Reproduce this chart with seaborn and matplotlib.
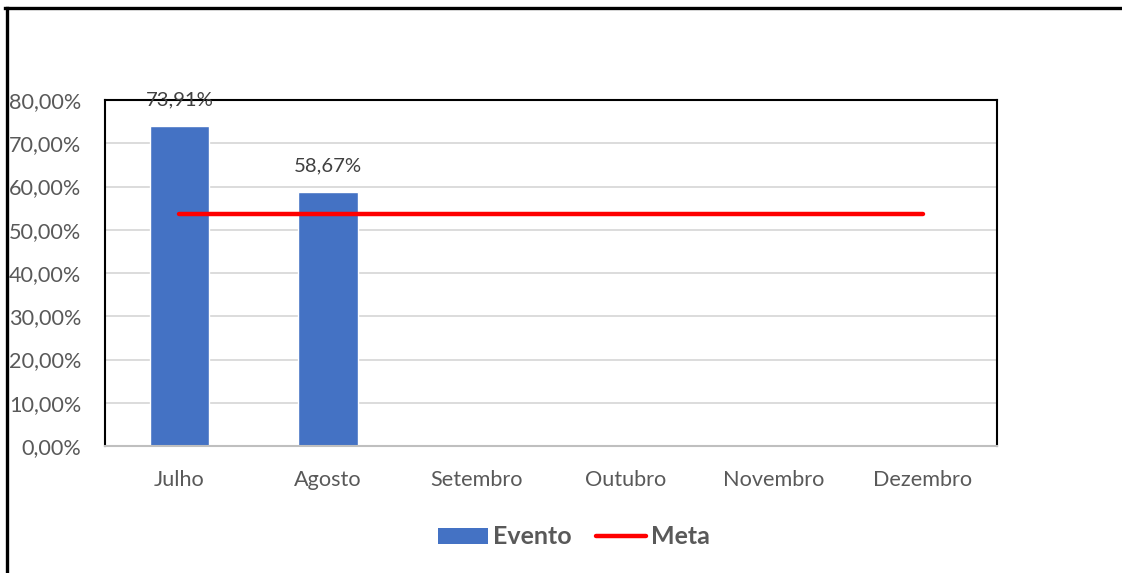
import matplotlib
matplotlib.use("Agg")
import matplotlib.pyplot as plt
from matplotlib.lines import Line2D
from matplotlib.patches import Patch
from matplotlib.ticker import FuncFormatter, MultipleLocator
import seaborn as sns
import pandas as pd
import numpy as np

# Monthly results (percent) and target
meses = ["Julho", "Agosto", "Setembro", "Outubro", "Novembro", "Dezembro"]
evento = [73.91, 58.67, np.nan, np.nan, np.nan, np.nan]
meta = [53.7, 53.7, 53.7, 53.7, 53.7, 53.7]

df = pd.DataFrame({"mes": meses, "evento": evento, "meta": meta})

sns.set_theme(style="white")
plt.rcParams["font.family"] = ["Lato", "DejaVu Sans"]

BLUE = "#4472C4"
RED = "#FF0000"
TXT = "#595959"

fig = plt.figure(figsize=(11.22, 5.73), dpi=100)
ax = fig.add_axes([105 / 1122, 1 - 446 / 573, 892 / 1122, 346 / 573])

sns.barplot(data=df, x="mes", y="evento", order=meses, color=BLUE,
            width=0.4, saturation=1, ax=ax, zorder=2)
sns.lineplot(data=df, x="mes", y="meta", color=RED, linewidth=3.2,
             ax=ax, zorder=3, solid_capstyle="round")

# value labels above bars
for i, v in enumerate(evento):
    if not np.isnan(v):
        ax.annotate(f"{v:.2f}%".replace(".", ","), (i, v),
                    xytext=(0, 26), textcoords="offset pixels",
                    ha="center", va="center", fontsize=14.6, color="#404040")

ax.set_xlim(-0.5, 5.5)
ax.set_ylim(0, 80)
ax.yaxis.set_major_locator(MultipleLocator(10))
ax.yaxis.set_major_formatter(FuncFormatter(lambda y, _: f"{y:.2f}%".replace(".", ",")))
ax.grid(axis="y", color="#d9d9d9", linewidth=1.3, zorder=0)
ax.set_axisbelow(True)
ax.set_xlabel("")
ax.set_ylabel("")
ax.tick_params(axis="both", length=0, labelsize=15.6, labelcolor=TXT)
ax.tick_params(axis="x", pad=17)
ax.tick_params(axis="y", pad=17)

for side in ["top", "left", "right"]:
    ax.spines[side].set_color("black")
    ax.spines[side].set_linewidth(1.5)
ax.spines["bottom"].set_color("#bfbfbf")
ax.spines["bottom"].set_linewidth(1.5)
if ax.get_legend() is not None:
    ax.get_legend().remove()

handles = [Patch(facecolor=BLUE, edgecolor="none"),
           Line2D([0], [0], color=RED, linewidth=3.2, solid_capstyle="round")]
leg = fig.legend(handles, ["Evento", "Meta"], loc="center", ncol=2,
                 bbox_to_anchor=(574 / 1122, 1 - 537 / 573), frameon=False,
                 prop={"weight": "bold", "size": 18}, handlelength=2.0,
                 handleheight=0.6, handletextpad=0.2, columnspacing=1.0)
for t in leg.get_texts():
    t.set_color(TXT)

# outer frame (top and left edges)
fig.add_artist(Line2D([5 / 1122, 1], [1 - 7.5 / 573, 1 - 7.5 / 573],
                      color="black", linewidth=2.4, solid_capstyle="projecting",
                      transform=fig.transFigure))
fig.add_artist(Line2D([6.5 / 1122, 6.5 / 1122], [0, 1 - 7.5 / 573],
                      color="black", linewidth=2.4, solid_capstyle="projecting",
                      transform=fig.transFigure))

fig.savefig("out.png", dpi=100, facecolor="white")
